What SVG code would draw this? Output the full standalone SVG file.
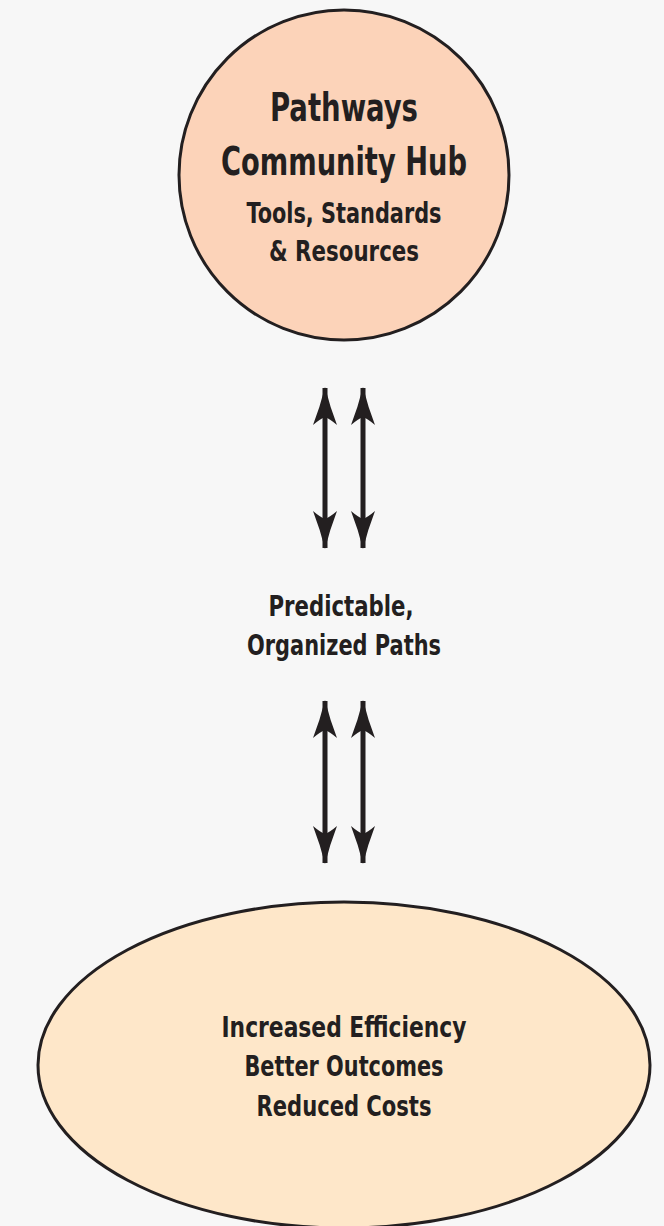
<svg xmlns="http://www.w3.org/2000/svg" width="664" height="1226" viewBox="0 0 664 1226">
  <defs>
    <style>
      .bg { fill: #f7f7f7; }
      .shape { stroke: #231f20; stroke-width: 3; }
      .hub { fill: #fcd3b9; }
      .result { fill: #fee7c9; }
      .txt { font-family: "DejaVu Sans Condensed", "DejaVu Sans", "Liberation Sans", sans-serif; font-stretch: condensed; font-weight: bold; fill: #231f20; text-anchor: middle; }
      .big { font-size: 39px; }
      .mid { font-size: 28px; }
      .link { stroke: #231f20; stroke-width: 5; fill: none; marker-start: url(#head); marker-end: url(#head); }
    </style>
    <marker id="head" viewBox="0 -12 38 24" refX="37" refY="0" markerWidth="38" markerHeight="24" markerUnits="userSpaceOnUse" orient="auto-start-reverse">
      <path d="M38,0 Q18,-5 0,-12 Q6,-5 8,0 Q6,5 0,12 Q18,5 38,0 Z" fill="#231f20"/>
    </marker>
  </defs>

  <rect class="bg" x="0" y="0" width="664" height="1226"/>

  <!-- top: the hub -->
  <g id="hub">
    <circle class="shape hub" cx="344" cy="175" r="165"/>
    <text class="txt big" x="344" y="121" textLength="148" lengthAdjust="spacingAndGlyphs">Pathways</text>
    <text class="txt big" x="344" y="175" textLength="246" lengthAdjust="spacingAndGlyphs">Community Hub</text>
    <text class="txt mid" x="344" y="223" textLength="195" lengthAdjust="spacingAndGlyphs">Tools, Standards</text>
    <text class="txt mid" x="344" y="261" textLength="150" lengthAdjust="spacingAndGlyphs">&amp; Resources</text>
  </g>

  <!-- middle: the paths label -->
  <g id="paths">
    <text class="txt mid" x="341" y="616" textLength="145" lengthAdjust="spacingAndGlyphs">Predictable,</text>
    <text class="txt mid" x="344" y="655" textLength="194" lengthAdjust="spacingAndGlyphs">Organized Paths</text>
  </g>

  <!-- bottom: the outcomes -->
  <g id="outcomes">
    <ellipse class="shape result" cx="344" cy="1065" rx="306" ry="163"/>
    <text class="txt mid" x="344" y="1037" textLength="245" lengthAdjust="spacingAndGlyphs">Increased Efficiency</text>
    <text class="txt mid" x="344" y="1076" textLength="199" lengthAdjust="spacingAndGlyphs">Better Outcomes</text>
    <text class="txt mid" x="344" y="1116" textLength="175" lengthAdjust="spacingAndGlyphs">Reduced Costs</text>
  </g>

  <!-- two-way connectors -->
  <g id="connectors">
    <line class="link" x1="325" y1="388" x2="325" y2="548"/>
    <line class="link" x1="363" y1="388" x2="363" y2="548"/>
    <line class="link" x1="325" y1="701" x2="325" y2="863"/>
    <line class="link" x1="363" y1="701" x2="363" y2="863"/>
  </g>
</svg>
